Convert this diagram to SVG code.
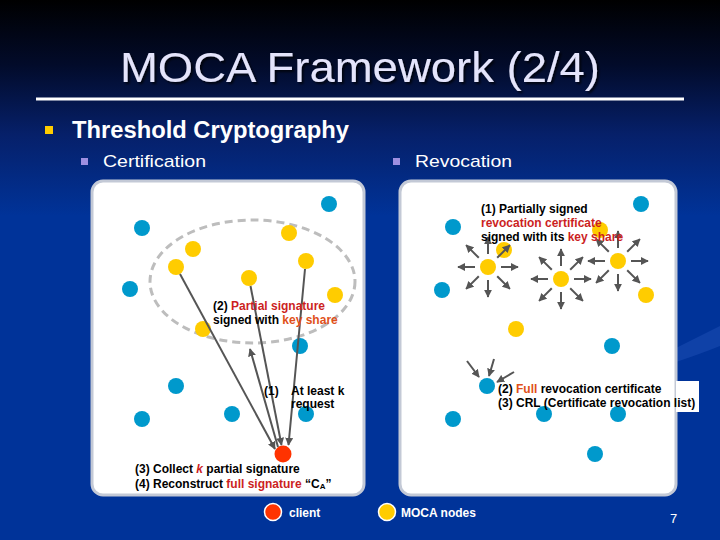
<svg xmlns="http://www.w3.org/2000/svg" width="720" height="540" viewBox="0 0 720 540">
<defs>
<linearGradient id="bg" x1="0" y1="0" x2="0" y2="1">
<stop offset="0" stop-color="#000000"/>
<stop offset="0.12" stop-color="#020b2a"/>
<stop offset="0.25" stop-color="#06206a"/>
<stop offset="0.4" stop-color="#003399"/>
<stop offset="1" stop-color="#003399"/>
</linearGradient>
<filter id="sh" x="-10%" y="-20%" width="120%" height="150%">
<feDropShadow dx="2" dy="2" stdDeviation="0.8" flood-color="#000000" flood-opacity="0.7"/>
</filter>
<marker id="ah" viewBox="0 0 10 10" refX="9" refY="5" markerWidth="8" markerHeight="8" markerUnits="userSpaceOnUse" orient="auto">
<path d="M0,0 L10,5 L0,10 z" fill="#555555"/>
</marker>
<style>
.panel{fill:#ffffff;stroke:#c3c9d6;stroke-width:3}
.b{fill:#0099cc}
.y{fill:#ffcc00}
.c{fill:#ff3300}
.con line{stroke:#555555;stroke-width:2;marker-end:url(#ah)}
.lbl{font-family:"Liberation Sans",Arial,sans-serif;font-size:12px;font-weight:bold;fill:#000000}
.red{fill:#cc1f1f}
.org{fill:#e0501a}
.wt{font-family:"Liberation Sans",Arial,sans-serif;fill:#ffffff}
</style>
</defs>
<rect x="0" y="0" width="720" height="540" fill="url(#bg)"/>
<path d="M676,348 Q700,336 720,326 L720,346 Q700,354 676,362 Z" fill="#2b5cc4" opacity="0.35"/>

<g id="title">
<text x="360" y="82" font-family="'Liberation Sans',Arial,sans-serif" font-size="42" fill="#e4e4fb" text-anchor="middle" textLength="480" lengthAdjust="spacingAndGlyphs" filter="url(#sh)">MOCA Framework (2/4)</text>
<line x1="36" y1="99" x2="684" y2="99" stroke="#ffffff" stroke-width="3"/>
</g>

<g id="bullets">
<rect x="45" y="126" width="8" height="8" fill="#ffcc00"/>
<text class="wt" x="72" y="138" font-size="23" font-weight="bold" textLength="277" lengthAdjust="spacingAndGlyphs">Threshold Cryptography</text>
<rect x="81" y="158" width="7" height="7" fill="#9e8fe0"/>
<text class="wt" x="103" y="167" font-size="17" textLength="103" lengthAdjust="spacingAndGlyphs">Certification</text>
<rect x="393" y="158" width="7" height="7" fill="#9e8fe0"/>
<text class="wt" x="415" y="167" font-size="17" textLength="97" lengthAdjust="spacingAndGlyphs">Revocation</text>
</g>

<g id="panel-left"><rect class="panel" x="92" y="181" width="272" height="314" rx="11"/></g>
<g id="panel-right"><rect class="panel" x="400" y="181" width="276" height="314" rx="11"/></g>
<rect x="676" y="381" width="23" height="31" fill="#ffffff"/>

<g id="group-ellipse"><ellipse cx="252.5" cy="281.5" rx="102.5" ry="61.5" fill="none" stroke="#bdbdbd" stroke-width="3" stroke-dasharray="8 5"/></g>

<g id="nodes-left">
<circle class="b" cx="142" cy="228" r="8"/>
<circle class="b" cx="329" cy="204" r="8"/>
<circle class="b" cx="130" cy="289" r="8"/>
<circle class="b" cx="300" cy="346" r="8"/>
<circle class="b" cx="176" cy="386" r="8"/>
<circle class="b" cx="142" cy="419" r="8"/>
<circle class="b" cx="232" cy="414" r="8"/>
<circle class="b" cx="306" cy="414" r="8"/>
<circle class="y" cx="289" cy="233" r="8"/>
<circle class="y" cx="193" cy="249" r="8"/>
<circle class="y" cx="176" cy="267" r="8"/>
<circle class="y" cx="306" cy="261" r="8"/>
<circle class="y" cx="249" cy="278" r="8"/>
<circle class="y" cx="335" cy="295" r="8"/>
<circle class="y" cx="203" cy="329" r="8"/>
<circle class="c" cx="283" cy="454" r="8.5"/>
</g>

<g id="nodes-right">
<circle class="b" cx="453" cy="227" r="8"/>
<circle class="b" cx="641" cy="204" r="8"/>
<circle class="b" cx="442" cy="290" r="8"/>
<circle class="b" cx="612" cy="346" r="8"/>
<circle class="b" cx="487" cy="386" r="8"/>
<circle class="b" cx="453" cy="419" r="8"/>
<circle class="b" cx="544" cy="414" r="8"/>
<circle class="b" cx="618" cy="414" r="8"/>
<circle class="b" cx="595" cy="454" r="8"/>
<circle class="y" cx="600" cy="230" r="8"/>
<circle class="y" cx="504" cy="250" r="8"/>
<circle class="y" cx="488" cy="267" r="8"/>
<circle class="y" cx="618" cy="261" r="8"/>
<circle class="y" cx="561" cy="279" r="8"/>
<circle class="y" cx="646" cy="295" r="8"/>
<circle class="y" cx="516" cy="329" r="8"/>
</g>

<g id="connectors" class="con">
<line x1="180" y1="274" x2="275" y2="449"/>
<line x1="250.5" y1="286" x2="281.5" y2="445"/>
<line x1="305" y1="269" x2="288.5" y2="445"/>
<line x1="278" y1="447" x2="250" y2="349"/>
<line x1="501" y1="267" x2="518" y2="267"/>
<line x1="497.2" y1="276.2" x2="509.9" y2="288.9"/>
<line x1="488" y1="280" x2="488" y2="297"/>
<line x1="478.8" y1="276.2" x2="466.1" y2="288.9"/>
<line x1="475" y1="267" x2="458" y2="267"/>
<line x1="478.8" y1="257.8" x2="466.1" y2="245.1"/>
<line x1="488" y1="254" x2="488" y2="237"/>
<line x1="497.2" y1="257.8" x2="509.9" y2="245.1"/>
<line x1="574" y1="279" x2="591" y2="279"/>
<line x1="570.2" y1="288.2" x2="582.9" y2="300.9"/>
<line x1="561" y1="292" x2="561" y2="309"/>
<line x1="551.8" y1="288.2" x2="539.1" y2="300.9"/>
<line x1="548" y1="279" x2="531" y2="279"/>
<line x1="551.8" y1="269.8" x2="539.1" y2="257.1"/>
<line x1="561" y1="266" x2="561" y2="249"/>
<line x1="570.2" y1="269.8" x2="582.9" y2="257.1"/>
<line x1="631" y1="261" x2="648" y2="261"/>
<line x1="627.2" y1="270.2" x2="639.9" y2="282.9"/>
<line x1="618" y1="274" x2="618" y2="291"/>
<line x1="608.8" y1="270.2" x2="596.1" y2="282.9"/>
<line x1="605" y1="261" x2="588" y2="261"/>
<line x1="608.8" y1="251.8" x2="596.1" y2="239.1"/>
<line x1="618" y1="248" x2="618" y2="231"/>
<line x1="627.2" y1="251.8" x2="639.9" y2="239.1"/>
<line x1="467" y1="361" x2="479" y2="377"/>
<line x1="494" y1="359" x2="489" y2="376"/>
<line x1="514" y1="372" x2="497" y2="382"/>
</g>

<g id="labels-left">
<text class="lbl" x="213" y="310">(2) <tspan class="red">Partial signature</tspan></text>
<text class="lbl" x="213" y="324">signed with <tspan class="org">key share</tspan></text>
<text class="lbl" x="264" y="395">(1)</text>
<text class="lbl" x="291" y="395">At least k</text>
<text class="lbl" x="291" y="408">request</text>
<text class="lbl" x="135" y="473">(3) Collect <tspan class="red" font-style="italic">k</tspan> partial signature</text>
<text class="lbl" x="135" y="488">(4) Reconstruct <tspan class="red">full signature</tspan> “C<tspan font-size="8" dy="1">A</tspan><tspan dy="-1">”</tspan></text>
</g>

<g id="labels-right">
<text class="lbl" x="481" y="213">(1) Partially signed</text>
<text class="lbl red" x="481" y="227">revocation certificate</text>
<text class="lbl" x="481" y="241">signed with its <tspan class="red">key share</tspan></text>
<text class="lbl" x="498" y="393">(2) <tspan class="org">Full</tspan> revocation certificate</text>
<text class="lbl" x="498" y="407">(3) CRL (Certificate revocation list)</text>
</g>

<g id="legend">
<circle cx="273" cy="512" r="8.5" fill="#ff3300" stroke="#ffffff" stroke-width="1.5"/>
<text class="wt" x="289" y="517" font-size="12" font-weight="bold">client</text>
<circle cx="387" cy="512" r="8.5" fill="#ffcc00" stroke="#ffffff" stroke-width="1.5"/>
<text class="wt" x="401" y="517" font-size="12" font-weight="bold">MOCA nodes</text>
<text class="wt" x="670" y="523" font-size="13">7</text>
</g>
</svg>
